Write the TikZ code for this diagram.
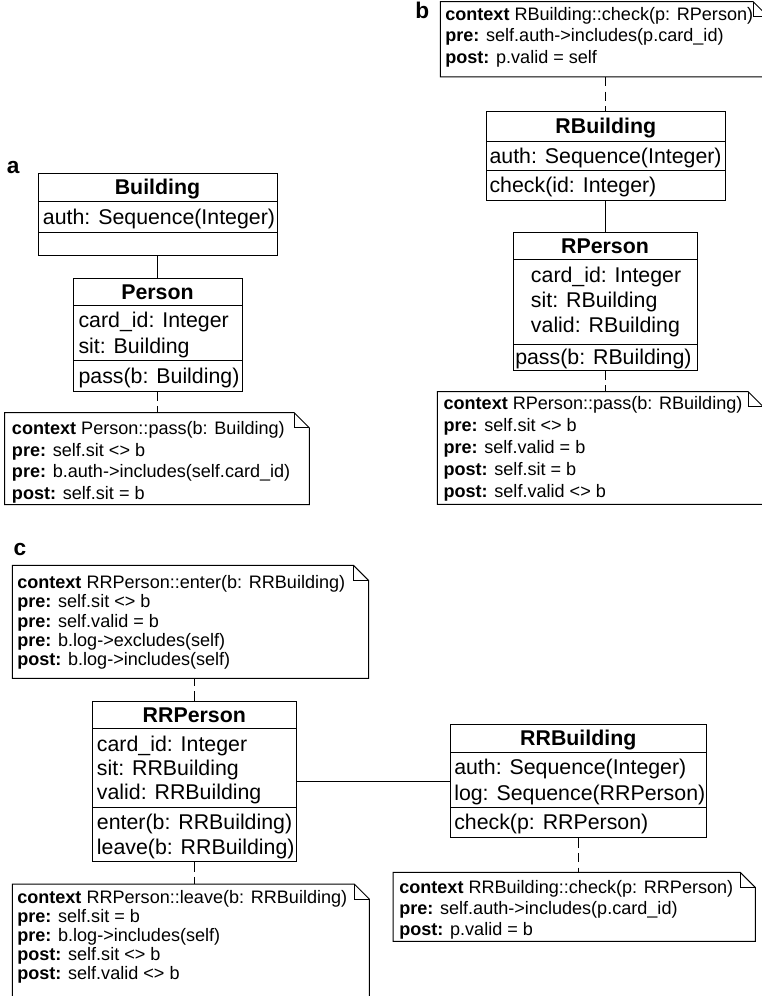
\documentclass[tikz,border=0pt]{standalone}
\usepackage{fontspec}
\setmainfont{Liberation Sans}
\usetikzlibrary{calc,fit}
\tikzset{
  box/.style={draw, line width=0.75pt, inner sep=0pt},
  area/.style={inner sep=0pt, draw=none},
  ctitle/.style={font=\fontsize{16}{19}\selectfont\bfseries, inner sep=0pt, text height=11.5pt, text depth=0pt},
  cline/.style={font=\fontsize{16}{19}\selectfont, inner sep=0pt, text height=11.5pt, text depth=0pt, anchor=west},
  nline/.style={font=\fontsize{13.55}{16}\selectfont, inner sep=0pt, text height=9.75pt, text depth=0pt, anchor=west},
  plabel/.style={font=\fontsize{17}{20}\selectfont\bfseries, inner sep=0pt, anchor=base west},
  conn/.style={line width=0.75pt},
  dconn/.style={line width=0.75pt, dash pattern=on 7pt off 4pt},
}
\newcommand{\umlnote}[1]{%
  \draw[conn] (#1.north west) -- ($(#1.north east)+(-15,0)$) -- ($(#1.north east)+(0,15)$)
     -- (#1.south east) -- (#1.south west) -- cycle;
  \draw[conn] ($(#1.north east)+(-15,0)$) |- ($(#1.north east)+(0,15)$);
}
\begin{document}
\begin{tikzpicture}[x=0.75pt,y=-0.75pt]
\useasboundingbox (0,0) rectangle (762,996);
\clip (0,0) rectangle (762,996);
\fill[white] (0,0) rectangle (762,996);

% ---------------- panel a ----------------
\node[plabel] (la) at (6.7,173.3) {a};
\node[box, fit={(38,173) (277,255.5)}] (bld) {};
\draw[conn] (38,201.5) -- (277,201.5);
\draw[conn] (38,232.5) -- (277,232.5);
\node[ctitle] (bldT) at (157.5,187.3) {Building};
\node[cline] (bldA) at (42.7,217) {auth: Sequence(Integer)};

\node[box, fit={(73,278) (242,391)}] (per) {};
\draw[conn] (73,305.7) -- (242,305.7);
\draw[conn] (73,360.7) -- (242,360.7);
\node[ctitle] (perT) at (157.5,291.8) {Person};
\node[cline] (perA1) at (78.3,320) {card\_id: Integer};
\node[cline] (perA2) at (78.3,346) {sit: Building};
\node[cline] (perO1) at (78.3,375.9) {pass(b: Building)};

\node[area, fit={(5,413) (309,504.3)}] (na) {};
\umlnote{na}
\node[nline] (na1) at (11.7,428.3) {\textbf{context} Person::pass(b: Building)};
\node[nline] (na2) at (11.7,449.7) {\textbf{pre:} self.sit <> b};
\node[nline] (na3) at (11.7,471.1) {\textbf{pre:} b.auth->includes(self.card\_id)};
\node[nline] (na4) at (11.7,492.5) {\textbf{post:} self.sit = b};

\draw[conn] (bld.south) -- (per.north);
\draw[dconn] (per.south) -- (per.south |- na.north);

% ---------------- panel b ----------------
\node[plabel] (lb) at (415,18.3) {b};
\node[area, fit={(440.7,2) (768,76.7)}] (nb) {};
\umlnote{nb}
\node[nline] (nb1) at (445,13.5) {\textbf{context} RBuilding::check(p: RPerson)};
\node[nline] (nb2) at (445,35.2) {\textbf{pre:} self.auth->includes(p.card\_id)};
\node[nline] (nb3) at (445,56.9) {\textbf{post:} p.valid = self};

\node[box, fit={(486,111.7) (725.7,200)}] (rb) {};
\draw[conn] (486,141) -- (725.7,141);
\draw[conn] (486,170) -- (725.7,170);
\node[ctitle] (rbT) at (605.8,126.3) {RBuilding};
\node[cline] (rbA1) at (489.3,155.5) {auth: Sequence(Integer)};
\node[cline] (rbO1) at (489.3,185) {check(id: Integer)};

\node[box, fit={(513,232.3) (697,370)}] (rp) {};
\draw[conn] (513,259) -- (697,259);
\draw[conn] (513,344) -- (697,344);
\node[ctitle] (rpT) at (605,245.7) {RPerson};
\node[cline] (rpA1) at (530.7,275) {card\_id: Integer};
\node[cline] (rpA2) at (530.7,300) {sit: RBuilding};
\node[cline] (rpA3) at (530.7,325) {valid: RBuilding};
\node[cline] (rpO1) at (515,357) {pass(b: RBuilding)};

\node[area, fit={(437.7,392) (763,504)}] (nrp) {};
\umlnote{nrp}
\node[nline] (nrp1) at (443.3,402.5) {\textbf{context} RPerson::pass(b: RBuilding)};
\node[nline] (nrp2) at (443.3,424.5) {\textbf{pre:} self.sit <> b};
\node[nline] (nrp3) at (443.3,446.5) {\textbf{pre:} self.valid = b};
\node[nline] (nrp4) at (443.3,468.5) {\textbf{post:} self.sit = b};
\node[nline] (nrp5) at (443.3,490.5) {\textbf{post:} self.valid <> b};

\draw[dconn] (rb.north |- nb.south) -- (rb.north);
\draw[conn] (rb.south) -- (rb.south |- rp.north);
\draw[dconn] (rp.south) -- (rp.south |- nrp.north);

% ---------------- panel c ----------------
\node[plabel] (lc) at (13.3,555) {c};
\node[area, fit={(12.7,565.7) (368.3,678)}] (nen) {};
\umlnote{nen}
\node[nline] (nen1) at (17,581.7) {\textbf{context} RRPerson::enter(b: RRBuilding)};
\node[nline] (nen2) at (17,601.1) {\textbf{pre:} self.sit <> b};
\node[nline] (nen3) at (17,620.5) {\textbf{pre:} self.valid = b};
\node[nline] (nen4) at (17,639.9) {\textbf{pre:} b.log->excludes(self)};
\node[nline] (nen5) at (17,659.3) {\textbf{post:} b.log->includes(self)};

\node[box, fit={(92.7,701) (296,861.7)}] (rrp) {};
\draw[conn] (92.7,728.3) -- (296,728.3);
\draw[conn] (92.7,807.3) -- (296,807.3);
\node[ctitle] (rrpT) at (194.3,714.7) {RRPerson};
\node[cline] (rrpA1) at (96.7,744) {card\_id: Integer};
\node[cline] (rrpA2) at (96.7,768) {sit: RRBuilding};
\node[cline] (rrpA3) at (96.7,792) {valid: RRBuilding};
\node[cline] (rrpO1) at (96.7,822.3) {enter(b: RRBuilding)};
\node[cline] (rrpO2) at (96.7,846.7) {leave(b: RRBuilding)};

\node[box, fit={(450,724.3) (706.7,837.7)}] (rrb) {};
\draw[conn] (450,752.3) -- (706.7,752.3);
\draw[conn] (450,807.3) -- (706.7,807.3);
\node[ctitle] (rrbT) at (578.3,738.3) {RRBuilding};
\node[cline] (rrbA1) at (454,767.3) {auth: Sequence(Integer)};
\node[cline] (rrbA2) at (454,792.7) {log: Sequence(RRPerson)};
\node[cline] (rrbO1) at (454,821.7) {check(p: RRPerson)};

\node[area, fit={(393.3,872.7) (755,941)}] (nck) {};
\umlnote{nck}
\node[nline] (nck1) at (399,886.7) {\textbf{context} RRBuilding::check(p: RRPerson)};
\node[nline] (nck2) at (399,908) {\textbf{pre:} self.auth->includes(p.card\_id)};
\node[nline] (nck3) at (399,929.3) {\textbf{post:} p.valid = b};

\node[area, fit={(12.7,884.3) (369,1005)}] (nlv) {};
\umlnote{nlv}
\node[nline] (nlv1) at (17,896.7) {\textbf{context} RRPerson::leave(b: RRBuilding)};
\node[nline] (nlv2) at (17,915.7) {\textbf{pre:} self.sit = b};
\node[nline] (nlv3) at (17,934.7) {\textbf{pre:} b.log->includes(self)};
\node[nline] (nlv4) at (17,953.7) {\textbf{post:} self.sit <> b};
\node[nline] (nlv5) at (17,972.7) {\textbf{post:} self.valid <> b};

\draw[dconn] (rrp.north) -- (rrp.north |- nen.south);
\draw[conn] (rrp.east) -- (rrp.east -| rrb.west);
\draw[dconn] (rrb.south) -- (rrb.south |- nck.north);
\draw[dconn] (rrp.south) -- (rrp.south |- nlv.north);
\end{tikzpicture}
\end{document}
